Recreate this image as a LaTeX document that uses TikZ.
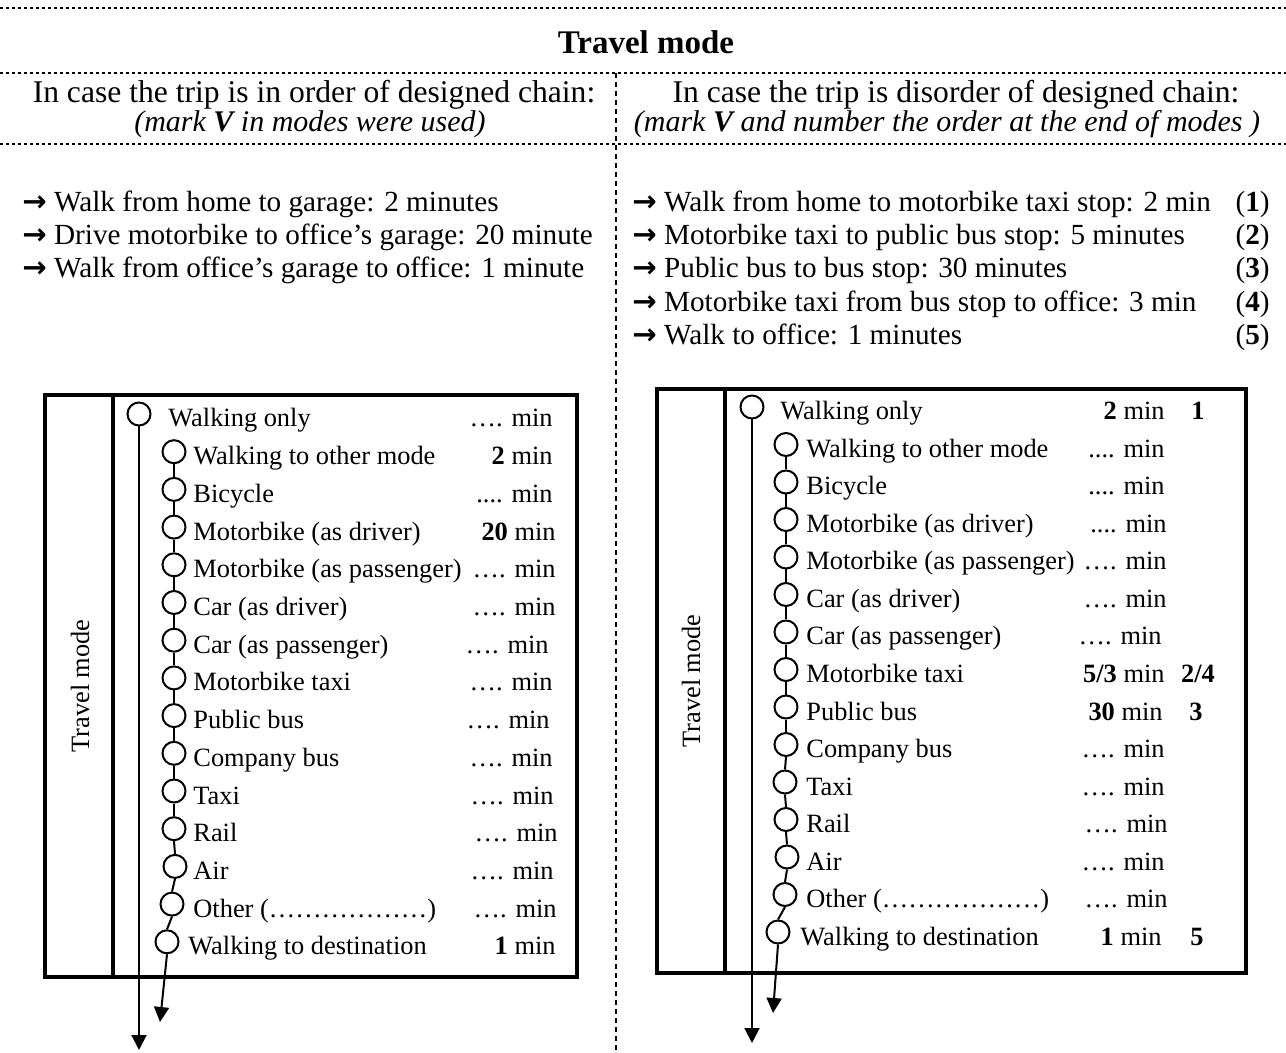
\documentclass[tikz,border=0pt]{standalone}
\usepackage{fontspec}
\setmainfont{Liberation Serif}
\newfontfamily\arrowfont{DejaVu Sans}
\usetikzlibrary{positioning}
\usetikzlibrary{arrows.meta}

\newcommand{\tmsize}{\fontsize{13.2}{16}\selectfont}
\newcommand{\titlesize}{\fontsize{16.5}{20}\selectfont}
\newcommand{\headsize}{\fontsize{15.8}{19}\selectfont}
\newcommand{\notesize}{\fontsize{15}{18}\selectfont}
\newcommand{\listsize}{\fontsize{14.6}{17}\selectfont}
\newcommand{\tarr}{{\arrowfont\bfseries →}\ }

\tikzset{
  modecirc/.style={circle, draw, line width=1pt, minimum size=11.5pt, inner sep=0pt},
  modetext/.style={anchor=base west, inner sep=0pt},
  mintext/.style={anchor=base east, inner sep=0pt},
  triptext/.style={anchor=base west, inner sep=0pt, font=\listsize},
  tripnum/.style={anchor=base east, inner sep=0pt, font=\listsize},
  ordtext/.style={anchor=base, inner sep=0pt, font=\tmsize\bfseries},
  boxline/.style={line width=1.7pt},
  chainline/.style={line width=1pt},
  flow/.style={line width=1pt, -{Triangle[length=7.5pt,width=7.5pt]}},
  hdots/.style={line width=0.8pt, dash pattern=on 1.5pt off 1.5pt},
  vdash/.style={line width=0.8pt, dash pattern=on 2.5pt off 2pt},
}

\begin{document}
\begin{tikzpicture}[x=0.5pt,y=-0.5pt,font=\tmsize]
\useasboundingbox (0,0) rectangle (1286,1053);

% heading and dotted frame lines
\draw[hdots] (0,8) -- (1286,8);
\node[font=\titlesize\bfseries] (title) at (646,42) {Travel mode};
\draw[hdots] (0,73) -- (1286,73);
\draw[hdots] (0,144) -- (1286,144);
\draw[vdash] (616,73) -- (616,1053);

\node[font=\headsize] (lefthead) at (314,95) {In case the trip is in order of designed chain:};
\node[font=\notesize\itshape] (leftnote) at (310,124) {(mark \textbf{V} in modes were used)};
\node[font=\headsize] (righthead) at (956,95) {In case the trip is disorder of designed chain:};
\node[font=\notesize\itshape] (rightnote) at (947,124) {(mark \textbf{V} and number the order at the end of modes )};

% trip lists
\node[triptext] (ltrip1) at (22,212) {\tarr Walk from home to garage: 2 minutes};
\node[triptext] (ltrip2) at (22,245) {\tarr Drive motorbike to office’s garage: 20 minute};
\node[triptext] (ltrip3) at (22,278) {\tarr Walk from office’s garage to office: 1 minute};

\node[triptext] (rtrip1) at (632,212) {\tarr Walk from home to motorbike taxi stop: 2 min};
\node[triptext] (rtrip2) at (632,245) {\tarr Motorbike taxi to public bus stop: 5 minutes};
\node[triptext] (rtrip3) at (632,278) {\tarr Public bus to bus stop: 30 minutes};
\node[triptext] (rtrip4) at (632,312) {\tarr Motorbike taxi from bus stop to office: 3 min};
\node[triptext] (rtrip5) at (632,345) {\tarr Walk to office: 1 minutes};
\foreach \k/\yb in {1/212,2/245,3/278,4/312,5/345}
  \node[tripnum] (rnum\k) at (1270,\yb) {(\textbf{\k})};

% left box
\draw[boxline] (45,395) rectangle (577,977);
\draw[boxline] (113,395) -- (113,977);
\node[rotate=90] (lmode) at (80,686) {Travel mode};

\foreach \i/\cx/\tx/\name/\val/\xe in {
  0/139/168/{Walking only}/{…. min}/553,
  1/174/193/{Walking to other mode}/{\textbf{2} min}/553,
  2/174/193/{Bicycle}/{.... min}/553,
  3/174/193/{Motorbike (as driver)}/{\textbf{20} min}/556,
  4/174/193/{Motorbike (as passenger)}/{…. min}/556,
  5/174/193/{Car (as driver)}/{…. min}/556,
  6/174/193/{Car (as passenger)}/{…. min}/549,
  7/174/193/{Motorbike taxi}/{…. min}/553,
  8/174/193/{Public bus}/{…. min}/550,
  9/174/193/{Company bus}/{…. min}/553,
  10/174/193/{Taxi}/{…. min}/554,
  11/174/193/{Rail}/{…. min}/558,
  12/175/193/{Air}/{…. min}/554,
  13/172/193/{Other (………………)}/{…. min}/557,
  14/167/188/{Walking to destination}/{\textbf{1} min}/556}
{
  \pgfmathsetmacro{\ry}{414+37.7*\i}
  \node[modecirc] (lc\i) at (\cx,\ry) {};
  \node[modetext] (lt\i) at (\tx,\ry+13) {\name};
  \node[mintext] (lv\i) at (\xe,\ry+13) {\val};
}
\foreach \i [remember=\i as \prev (initially 1)] in {2,...,14}
  \draw[chainline] (lc\prev.south) -- (lc\i.north);
\coordinate (lend) at (139,1050);
\coordinate (lshort) at (160,1022);
\draw[flow] (lc0.south) -- (lend);
\draw[flow] (lc14.south) -- (lshort);

% right box
\draw[boxline] (657,389) rectangle (1246,973);
\draw[boxline] (725,389) -- (725,973);
\node[rotate=90] (rmode) at (691,681) {Travel mode};

\foreach \i/\cx/\tx/\name/\val/\xe in {
  0/752/780/{Walking only}/{\textbf{2} min}/1165,
  1/786/806/{Walking to other mode}/{.... min}/1165,
  2/786/806/{Bicycle}/{.... min}/1165,
  3/786/806/{Motorbike (as driver)}/{.... min}/1167,
  4/786/806/{Motorbike (as passenger)}/{…. min}/1167,
  5/786/806/{Car (as driver)}/{…. min}/1167,
  6/786/806/{Car (as passenger)}/{…. min}/1162,
  7/786/806/{Motorbike taxi}/{\textbf{5/3} min}/1165,
  8/786/806/{Public bus}/{\textbf{30} min}/1163,
  9/786/806/{Company bus}/{…. min}/1165,
  10/785/806/{Taxi}/{…. min}/1165,
  11/786/806/{Rail}/{…. min}/1168,
  12/787/806/{Air}/{…. min}/1165,
  13/785/806/{Other (………………)}/{…. min}/1168,
  14/778/800/{Walking to destination}/{\textbf{1} min}/1162}
{
  \pgfmathsetmacro{\ry}{407+37.5*\i}
  \node[modecirc] (rc\i) at (\cx,\ry) {};
  \node[modetext] (rt\i) at (\tx,\ry+13) {\name};
  \node[mintext] (rv\i) at (\xe,\ry+13) {\val};
}
\node[ordtext] (ro0) at (1198,407+13) {1};
\node[ordtext] (ro7) at (1198,669.5+13) {2/4};
\node[ordtext] (ro8) at (1196,707+13) {3};
\node[ordtext] (ro14) at (1197,932+13) {5};
\foreach \i [remember=\i as \prev (initially 1)] in {2,...,14}
  \draw[chainline] (rc\prev.south) -- (rc\i.north);
\coordinate (rend) at (752,1043);
\coordinate (rshort) at (773,1013);
\draw[flow] (rc0.south) -- (rend);
\draw[flow] (rc14.south) -- (rshort);
\end{tikzpicture}
\end{document}
